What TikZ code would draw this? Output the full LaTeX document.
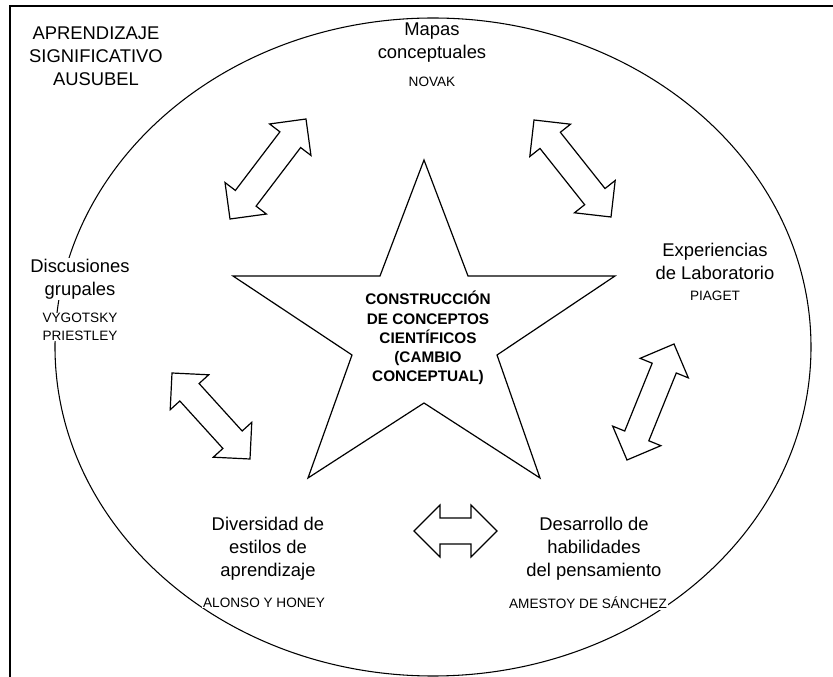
\documentclass[tikz,border=0pt]{standalone}
\usepackage{fontspec}
\setmainfont{Liberation Sans}
\usetikzlibrary{calc}
\tikzset{
	hlen/.store in=\hlen, hlen=19.5pt,
	hwid/.store in=\hwid, hwid=19.5pt,
	swid/.store in=\swid, swid=9.75pt,
	concept/.style={align=center, inner sep=1pt, fill=white, font=\fontsize{13.8}{17.3}\selectfont},
	author/.style={align=center, inner sep=0.5pt, fill=white, font=\fontsize{10.2}{13.5}\selectfont},
	core/.style={align=center, inner sep=0pt, font=\fontsize{11.5}{14.4}\selectfont\bfseries},
	outline/.style={draw, line width=0.9pt, fill=white, line join=miter},
}
\newcommand{\dblarrow}[2]{%
	\path[outline] (#1)
	-- ($(#1)!\hlen!(#2)!\hwid!90:(#2)$)
	-- ($(#1)!\hlen!(#2)!\swid!90:(#2)$)
	-- ($(#2)!\hlen!(#1)!\swid!-90:(#1)$)
	-- ($(#2)!\hlen!(#1)!\hwid!-90:(#1)$)
	-- (#2)
	-- ($(#2)!\hlen!(#1)!\hwid!90:(#1)$)
	-- ($(#2)!\hlen!(#1)!\swid!90:(#1)$)
	-- ($(#1)!\hlen!(#2)!\swid!-90:(#2)$)
	-- ($(#1)!\hlen!(#2)!\hwid!-90:(#2)$)
	-- cycle;}

\begin{document}
\begin{tikzpicture}[x=0.75pt, y=-0.75pt]
\useasboundingbox (0,0) rectangle (833,677);
\draw[line width=1.2pt] (833,6) -- (10,6) -- (10,677);
\draw[line width=0.8pt] (433,347) ellipse [x radius=283.5pt, y radius=246.75pt];

\node[concept] (ausubel) at (96,56) {APRENDIZAJE\\SIGNIFICATIVO\\AUSUBEL};

\draw[outline] (424,160) -- (468,276) -- (615,276) -- (497,355) -- (540,478)
	-- (424,403) -- (308,478) -- (352,355) -- (233,276) -- (380,276) -- cycle;
\node[core] (cambio) at (428,338) {CONSTRUCCIÓN\\DE CONCEPTOS\\CIENTÍFICOS\\(CAMBIO\\CONCEPTUAL)};

\node[concept, fill=none] (mapas) at (432,43) {Mapas\\conceptuales};
\node[author] (novak) at (432,82) {NOVAK};
\node[concept] (lab) at (715,261) {Experiencias\\de Laboratorio};
\node[author] (piaget) at (715,296) {PIAGET};
\node[concept] (disc) at (80,279) {Discusiones\\grupales};
\node[author] (vygotsky) at (80,327) {VYGOTSKY\\PRIESTLEY};
\node[concept] (estilos) at (268,549) {Diversidad de\\estilos de\\aprendizaje};
\node[author] (honey) at (264,603) {ALONSO Y HONEY};
\node[concept] (habil) at (594,549) {Desarrollo de\\habilidades\\del pensamiento};
\node[author] (sanchez) at (588,603) {AMESTOY DE SÁNCHEZ};

\coordinate (a1s) at (230,219); \coordinate (a1e) at (306,119);
\coordinate (a2s) at (534,120); \coordinate (a2e) at (611,217);
\coordinate (a3s) at (627,460); \coordinate (a3e) at (674,344);
\coordinate (a4s) at (172,373); \coordinate (a4e) at (250,459);
\coordinate (a5s) at (414,531); \coordinate (a5e) at (497,531);
\dblarrow{a1s}{a1e}
\dblarrow{a2s}{a2e}
\dblarrow{a3s}{a3e}
\dblarrow{a4s}{a4e}
\dblarrow{a5s}{a5e}
\end{tikzpicture}
\end{document}
